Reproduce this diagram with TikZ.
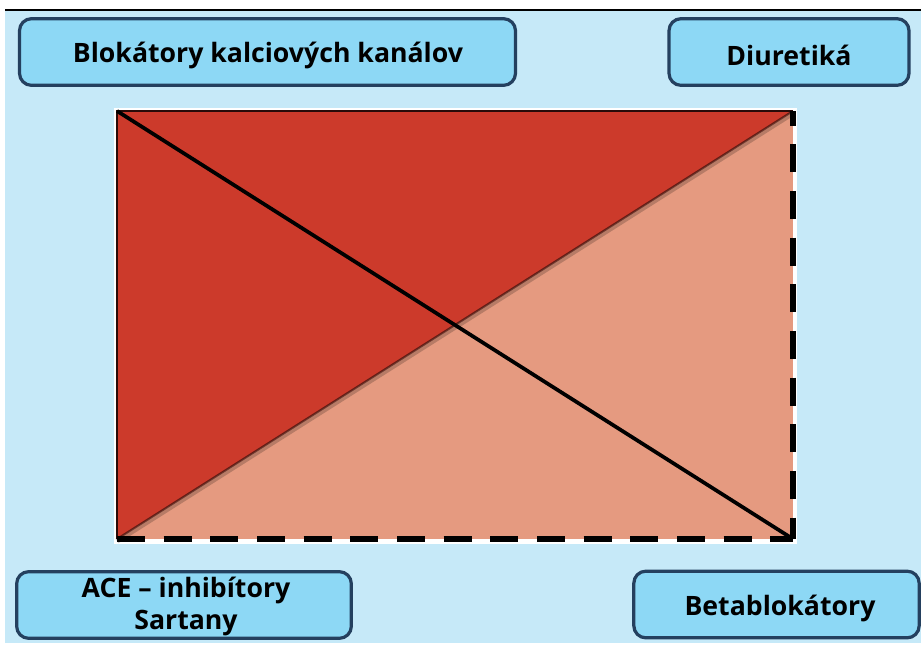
\documentclass[tikz,border=0pt]{standalone}
\usepackage{fontspec}
\setmainfont{Open Sans}
\usetikzlibrary{calc}
\definecolor{bgblue}{HTML}{C6E9F8}
\definecolor{boxfill}{HTML}{8DD8F5}
\definecolor{boxline}{HTML}{24405F}
\definecolor{darkred}{HTML}{CC3A2B}
\definecolor{salmon}{HTML}{E59A80}
\begin{document}
\begin{tikzpicture}[x=0.75pt,y=-0.75pt,
  lbox/.style={draw=boxline,line width=2.4pt,fill=boxfill,rounded corners=9pt,inner sep=0pt},
  ltext/.style={font=\bfseries\fontsize{20}{24}\selectfont,text=black,align=center}]
\useasboundingbox (0,0) rectangle (921,644);
\fill[white] (0,0) rectangle (921,644);
\fill[bgblue] (5,11) rectangle (921,643);
\draw[black,line width=2pt] (5,10) -- (921,10);
% boxes
\node[lbox,minimum width=372pt,minimum height=50pt] (b1) at (267.5,52) {};
\node[lbox,minimum width=180pt,minimum height=50pt] (b2) at (789,52) {};
\node[lbox,minimum width=251pt,minimum height=50pt] (b3) at (184,605) {};
\node[lbox,minimum width=214pt,minimum height=50pt] (b4) at (776.5,604.5) {};
\node[ltext] (t1) at (268,55) {Blokátory kalciových kanálov};
\node[ltext] (t2) at (789,55) {Diuretiká};
\node[ltext] (t3) at (186,606) {ACE – inhibítory\\Sartany};
\node[ltext] (t4) at (780,608) {Betablokátory};
% rectangle
\coordinate (tl) at (117,111);
\coordinate (tr) at (793,111);
\coordinate (bl) at (117,539);
\coordinate (br) at (793,539);
\fill[white] (114,108) rectangle (797,544);
\fill[salmon] (tl) rectangle (br);
\fill[darkred] (tl) -- (tr) -- (bl) -- cycle;
\draw[black,opacity=0.2,line width=4pt] ($(bl)+(0,2)$) -- ($(tr)+(0,2)$);
\draw[black!70!darkred,opacity=0.6,line width=1.5pt] (bl) -- (tr);
\draw[black!80!darkred,line width=1.8pt] (bl) -- (tl) -- (tr);
\draw[black,line width=5pt,dash pattern=on 21pt off 14pt] (bl) -- (br);
\draw[black,line width=5pt,dash pattern=on 21pt off 14pt,dash phase=10pt] (tr) -- (br);
\draw[black,line width=2.8pt] (tl) -- (br);
\end{tikzpicture}
\end{document}
